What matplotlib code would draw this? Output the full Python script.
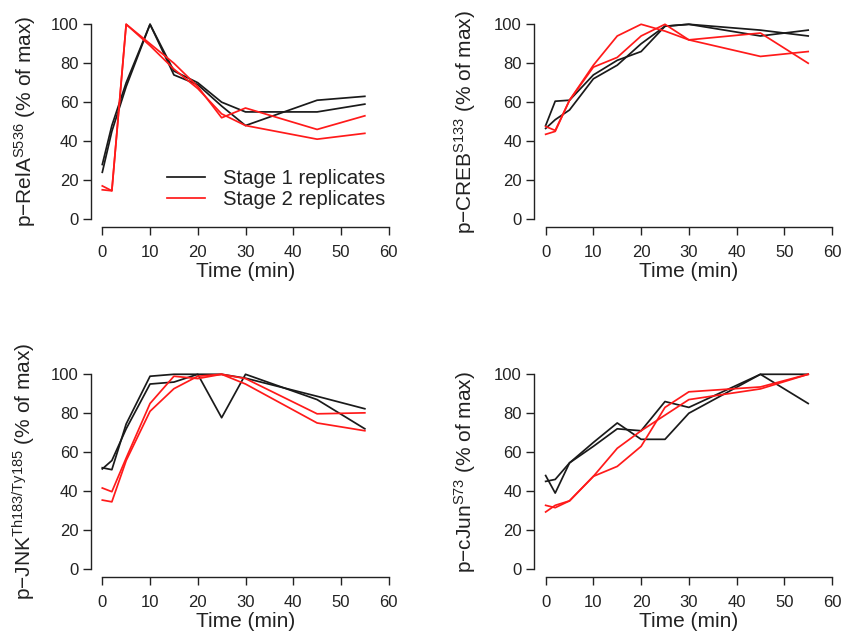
import matplotlib
matplotlib.use("Agg")
import matplotlib.pyplot as plt

plt.rcParams["font.family"] = ["Liberation Sans", "DejaVu Sans"]
plt.rcParams["mathtext.fontset"] = "custom"
plt.rcParams["mathtext.rm"] = "Liberation Sans"
plt.rcParams["mathtext.default"] = "regular"

# sampling times (min)
tiempos = [0, 2, 5, 10, 15, 20, 25, 30, 45, 55]

# p-RelA S536
rela_s1_a = [24, 45, 68, 100, 74, 69, 58, 48, 61, 63]
rela_s1_b = [28, 48, 70, 100, 76, 70, 60, 55, 55, 59]
rela_s2_a = [17, 14.5, 100, 90, 80, 68, 52, 57, 46, 53]
rela_s2_b = [15, 14.5, 100, 89, 77, 67, 54, 48, 41, 44]

# p-CREB S133
creb_s1_a = [48, 60.5, 61, 74, 81.5, 86, 99, 100, 94, 97]
creb_s1_b = [46.5, 51, 56, 72, 79, 90, 99, 100, 97, 94]
creb_s2_a = [47.5, 45.5, 61, 79, 94, 100, 96.5, 92, 95.5, 80]
creb_s2_b = [43.5, 45, 61, 78, 83, 94, 100, 92, 83.5, 86]

# p-JNK Th183/Ty185
jnk_s1_a = [52, 51, 74.5, 99, 100, 100, 77.7, 100, 87, 72]
jnk_s1_b = [51.4, 55.7, 72, 95, 96, 100, 100, 98, 88.7, 82.3]
jnk_s2_a = [41.6, 39.7, 57, 85, 99, 97.8, 100, 97.8, 79.7, 80.2]
jnk_s2_b = [35.4, 34.5, 55.7, 81, 92.6, 99, 100, 95, 75, 71]

# p-cJun S73
cjun_s1_a = [48, 39, 54.5, 65, 75, 66.6, 66.6, 80, 100, 100]
cjun_s1_b = [45, 46, 54.5, 63, 72, 71, 86, 83, 100, 85]
cjun_s2_a = [32.7, 31.5, 35, 47.6, 52.7, 63, 83, 91, 93.5, 100]
cjun_s2_b = [29.3, 32.7, 35, 47.6, 62, 71, 79, 87, 92.5, 100]

etiquetas_y = [
    r"p$-$RelA$^{S536}$ (% of max)",
    r"p$-$CREB$^{S133}$ (% of max)",
    r"p$-$JNK$^{Th183/Ty185}$ (% of max)",
    r"p$-$cJun$^{S73}$ (% of max)",
]
series = [
    (rela_s1_a, rela_s1_b, rela_s2_a, rela_s2_b),
    (creb_s1_a, creb_s1_b, creb_s2_a, creb_s2_b),
    (jnk_s1_a, jnk_s1_b, jnk_s2_a, jnk_s2_b),
    (cjun_s1_a, cjun_s1_b, cjun_s2_a, cjun_s2_b),
]

W, H = 845, 636
fig = plt.figure(figsize=(W / 100, H / 100), dpi=100)

# panel boxes in pixels: left, top
posiciones = [(90.85, 16.5), (534.2, 16.5), (90.85, 366.5), (534.2, 366.5)]
ancho, alto = 309.3, 210.3
label_x = [-0.171, -0.182, -0.171, -0.182]

NEGRO = "#1a1a1a"
ROJO = "#ff1a1a"

for i, (izq, arriba) in enumerate(posiciones):
    ax = fig.add_axes([izq / W, 1 - (arriba + alto) / H, ancho / W, alto / H])
    s1a, s1b, s2a, s2b = series[i]
    ax.plot(tiempos, s1a, color=NEGRO, lw=1.25, label="Stage 1 replicates")
    ax.plot(tiempos, s1b, color=NEGRO, lw=1.25)
    ax.plot(tiempos, s2a, color=ROJO, lw=1.25, label="Stage 2 replicates")
    ax.plot(tiempos, s2b, color=ROJO, lw=1.25)

    ax.set_xlim(-2.4, 62.4)
    ax.set_ylim(-4, 104)
    ax.set_xticks(range(0, 61, 10))
    ax.set_yticks(range(0, 101, 20))
    for lado in ["top", "right"]:
        ax.spines[lado].set_visible(False)
    ax.spines["bottom"].set_bounds(0, 60)
    ax.spines["left"].set_bounds(0, 100)
    for lado in ["bottom", "left"]:
        ax.spines[lado].set_linewidth(1.0)
        ax.spines[lado].set_color("#222222")
    ax.tick_params(axis="both", length=6, width=1.0, color="#222222",
                   labelsize=12, labelcolor="#222222")
    ax.tick_params(axis="x", pad=7)
    ax.tick_params(axis="y", pad=3)
    ax.set_xlabel("Time (min)", fontsize=15, color="#222222", labelpad=1.5)
    ax.set_ylabel(etiquetas_y[i], fontsize=15, color="#222222")
    ax.yaxis.set_label_coords(label_x[i], 0.5)

    if i == 0:
        ax.legend(loc="center left", frameon=False, fontsize=14.6,
                  bbox_to_anchor=(166.7 / W, 1 - 189.2 / H),
                  bbox_transform=fig.transFigure, borderpad=0,
                  borderaxespad=0, handlelength=1.88, handletextpad=0.9,
                  labelspacing=0.1, labelcolor="#222222")

fig.savefig("out.png", dpi=100)
